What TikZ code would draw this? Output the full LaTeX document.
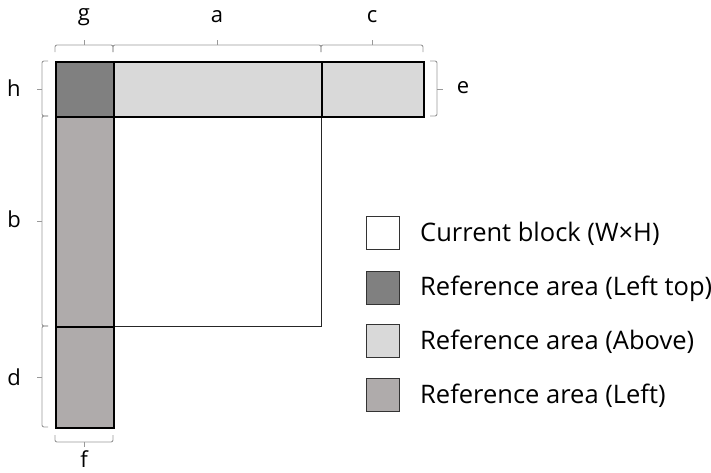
\documentclass[tikz,border=0pt]{standalone}
\usepackage{fontspec}
\setmainfont{Open Sans}
\begin{document}
\begin{tikzpicture}[x=1pt,y=-1pt,
  area/.style={draw=black,line width=2.4pt,inner sep=0pt,anchor=north west},
  cur/.style={draw=black!85,line width=1.2pt,inner sep=0pt,anchor=north west,fill=white},
  brace/.style={draw=black!40,line width=0.9pt,rounded corners=2pt},
  lbl/.style={font=\fontsize{22}{24}\selectfont,inner sep=0pt},
  legbox/.style={draw=black!80,line width=1.8pt,minimum width=33pt,minimum height=33pt,inner sep=0pt},
  legtxt/.style={font=\fontsize{25.5}{28}\selectfont,anchor=west,inner sep=0pt}]
\useasboundingbox (0,0) rectangle (711,472);
\definecolor{ltop}{HTML}{808080}
\definecolor{above}{HTML}{D9D9D9}
\definecolor{leftc}{HTML}{AFABAB}
% current block
\node[cur,minimum width=208pt,minimum height=210pt] (cb) at (113,116) {};
% reference areas
\node[area,fill=ltop,minimum width=58pt,minimum height=55pt] (lt) at (55,61) {};
\node[area,fill=above,minimum width=208pt,minimum height=55pt] (aa) at (113,61) {};
\node[area,fill=above,minimum width=102pt,minimum height=55pt] (ac) at (321,61) {};
\node[area,fill=leftc,minimum width=58pt,minimum height=210pt] (lb) at (55,116) {};
\node[area,fill=leftc,minimum width=58pt,minimum height=101pt] (ld) at (55,326) {};
% top braces
\draw[brace] (55,52) -- (55,45) -- (84,45) -- (113,45) -- (113,52);
\draw[brace] (84,45) -- (84,40);
\draw[brace] (113,52) -- (113,45) -- (321,45) -- (321,52);
\draw[brace] (217,45) -- (217,40);
\draw[brace] (321,52) -- (321,45) -- (423,45) -- (423,52);
\draw[brace] (372,45) -- (372,40);
\node[lbl] (g) at (84,17) {g};
\node[lbl] (a) at (217,17) {a};
\node[lbl] (c) at (372,17) {c};
% left braces
\draw[brace] (48,61) -- (42,61) -- (42,116) -- (48,116);
\draw[brace] (42,89) -- (37,89);
\draw[brace] (48,116) -- (42,116) -- (42,326) -- (48,326);
\draw[brace] (42,221) -- (37,221);
\draw[brace] (48,326) -- (42,326) -- (42,427) -- (48,427);
\draw[brace] (42,377) -- (37,377);
\node[lbl] (h) at (14,88) {h};
\node[lbl] (b) at (14,219) {b};
\node[lbl] (d) at (14,377) {d};
% right brace
\draw[brace] (430,61) -- (437,61) -- (437,116) -- (430,116);
\draw[brace] (437,89) -- (443,89);
\node[lbl] (e) at (463,88) {e};
% bottom brace
\draw[brace] (55,435) -- (55,442) -- (113,442) -- (113,435);
\draw[brace] (84,442) -- (84,447);
\node[lbl] (f) at (84,459) {f};
% legend
\node[legbox,fill=white] (k1) at (383,233) {};
\node[legbox,fill=ltop] (k2) at (383,288) {};
\node[legbox,fill=above] (k3) at (383,341) {};
\node[legbox,fill=leftc] (k4) at (383,395) {};
\node[legtxt] (t1) at (420,234) {Current block (W×H)};
\node[legtxt] (t2) at (420,289) {Reference area (Left top)};
\node[legtxt] (t3) at (420,342) {Reference area (Above)};
\node[legtxt] (t4) at (420,396) {Reference area (Left)};
\end{tikzpicture}
\end{document}
